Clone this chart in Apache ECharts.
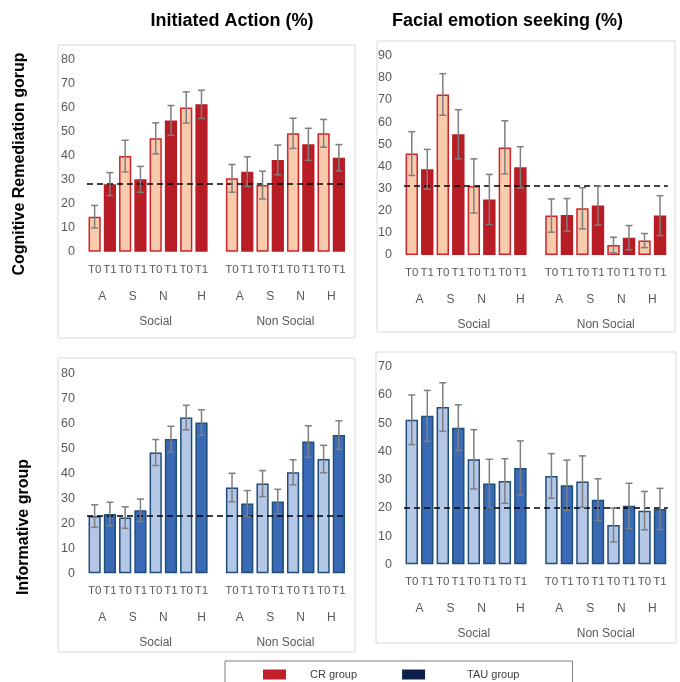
<!DOCTYPE html>
<html><head><meta charset="utf-8">
<script src="https://cdn.jsdelivr.net/npm/echarts@6/dist/echarts.min.js"></script>
<style>html,body{margin:0;padding:0;background:#fff}#c{width:680px;height:682px}</style>
</head><body><div id="c"></div>
<script>
// ---------- DATA ----------
const groups = ['Social', 'Non Social'];
const letters = ['A', 'S', 'N', 'H'];
const times = ['T0', 'T1'];
const panelTitles = ['Initiated Action (%)', 'Facial emotion seeking (%)'];
const rowTitles = ['Cognitive Remediation gorup', 'Informative group'];
const legendNames = ['CR group', 'TAU group'];
const yTicksMax = [80, 90, 80, 70];

// order of each array: Social A,S,N,H then Non Social A,S,N,H
const iaCR_T0 = [14.6, 39.9, 47.3, 60.2, 30.6, 27.8, 49.4, 49.4];
const iaCR_T1 = [28.2, 30.2, 54.8, 61.5, 33.4, 38.3, 44.8, 39.2];
const iaCR_T0err = [4.7, 6.6, 6.5, 6.5, 5.8, 5.8, 6.3, 5.8];
const iaCR_T1err = [4.8, 5.4, 6.2, 5.9, 6.2, 6.2, 6.7, 5.5];
const iaCR_ref = 28.2;

const fesCR_T0 = [45.8, 72.5, 31.2, 48.6, 17.8, 21.1, 4.5, 6.5];
const fesCR_T1 = [38.7, 54.5, 25.1, 39.6, 18.1, 22.3, 7.8, 17.8];
const fesCR_T0err = [9.9, 9.4, 12.2, 12.0, 7.5, 9.3, 3.5, 3.2];
const fesCR_T1err = [9.0, 11.1, 11.3, 9.3, 7.4, 8.8, 5.5, 9.0];
const fesCR_ref = 31.3;

const iaTAU_T0 = [22.9, 22.3, 48.3, 62.3, 34.3, 35.9, 40.4, 45.7];
const iaTAU_T1 = [23.7, 25.2, 53.7, 60.3, 27.9, 28.7, 52.7, 55.3];
const iaTAU_T0err = [4.5, 4.3, 5.2, 4.9, 5.7, 5.2, 5.0, 5.5];
const iaTAU_T1err = [4.7, 4.5, 5.1, 5.1, 5.2, 4.9, 6.3, 5.7];
const iaTAU_ref = 23.1;

const fesTAU_T0 = [51.2, 55.7, 37.2, 29.5, 31.3, 29.3, 13.9, 19.0];
const fesTAU_T1 = [52.6, 48.4, 28.6, 34.1, 28.0, 22.9, 20.7, 19.6];
const fesTAU_T0err = [8.8, 8.6, 10.5, 7.9, 7.9, 9.1, 6.0, 6.8];
const fesTAU_T1err = [9.0, 8.1, 8.6, 9.6, 8.9, 7.4, 8.0, 7.3];
const fesTAU_ref = 20.2;

// ---------- STYLE / LAYOUT ----------
const FONT = "'Liberation Sans', Arial, sans-serif";
const TXT = '#595959';
const palettes = {
  CR: { t0: '#f8cbad', t0b: '#d0232b', t1: '#b81c25', t1b: '#b81c25', legend: '#c0202a' },
  TAU: { t0: '#b4c7e7', t0b: '#1f4e79', t1: '#3a6ab5', t1b: '#1f4e79', legend: '#0c1f4a' }
};
const panels = [
  { T0: iaCR_T0, T1: iaCR_T1, e0: iaCR_T0err, e1: iaCR_T1err, ref: iaCR_ref, pal: 'CR', name: legendNames[0],
    grid: { left: 87, right: 333.5, top: 60, bottom: 430.3 }, box: [58, 45, 297, 293] },
  { T0: fesCR_T0, T1: fesCR_T1, e0: fesCR_T0err, e1: fesCR_T1err, ref: fesCR_ref, pal: 'CR', name: legendNames[0],
    grid: { left: 404, right: 12.2, top: 55.7, bottom: 427 }, box: [377, 41, 298, 291] },
  { T0: iaTAU_T0, T1: iaTAU_T1, e0: iaTAU_T0err, e1: iaTAU_T1err, ref: iaTAU_ref, pal: 'TAU', name: legendNames[1],
    grid: { left: 87, right: 333.5, top: 373.3, bottom: 108.7 }, box: [58, 358, 297, 294] },
  { T0: fesTAU_T0, T1: fesTAU_T1, e0: fesTAU_T0err, e1: fesTAU_T1err, ref: fesTAU_ref, pal: 'TAU', name: legendNames[1],
    grid: { left: 404, right: 12.2, top: 366.7, bottom: 117.7 }, box: [376, 352, 300, 291] }
];

// categories: T0,T1 per letter, empty slot between groups
const categories = [];
const slotIndex = []; // [g][letter][time] -> category index
groups.forEach((g, gi) => {
  slotIndex.push([]);
  letters.forEach((l, li) => {
    slotIndex[gi].push([]);
    times.forEach(t => { slotIndex[gi][li].push(categories.length); categories.push(t); });
  });
  if (gi < groups.length - 1) categories.push('');
});
const nCat = categories.length;

// label positions (in category units) for the letter and group rows
const letterLabels = {}, groupLabels = {};
groups.forEach((g, gi) => {
  letters.forEach((l, li) => {
    let pos = slotIndex[gi][li][0] + 1;
    if (gi === 0 && li === letters.length - 1) pos += 0.5; // Excel offset seen in original
    letterLabels[pos.toFixed(1)] = l;
  });
  const first = slotIndex[gi][0][0], last = slotIndex[gi][letters.length - 1][1] + 1;
  let c = (first + last) / 2 + (gi === 0 ? 0.5 : 0);
  groupLabels[c.toFixed(1)] = g;
});

const grids = [], xAxes = [], yAxes = [], series = [], graphics = [];
panels.forEach((p, k) => {
  grids.push(Object.assign({ containLabel: false }, p.grid));
  const pal = palettes[p.pal];
  xAxes.push({
    type: 'category', gridIndex: k, data: categories, position: 'bottom', offset: 0,
    axisLine: { show: false }, axisTick: { show: false },
    axisLabel: { interval: 0, margin: 12, color: TXT, fontSize: 11.5, fontFamily: FONT }
  });
  const lvl = (map, margin) => ({
    type: 'value', gridIndex: k, min: 0, max: nCat, interval: 0.5, position: 'bottom', offset: 0,
    axisLine: { show: false, onZero: false }, axisTick: { show: false }, splitLine: { show: false },
    axisLabel: { margin: margin, color: TXT, fontSize: 12, fontFamily: FONT,
      showMinLabel: true, showMaxLabel: true,
      formatter: v => map[Number(v).toFixed(1)] || '' }
  });
  xAxes.push(lvl(letterLabels, 38.5));
  xAxes.push(lvl(groupLabels, 63.5));
  yAxes.push({
    type: 'value', gridIndex: k, min: 0, max: yTicksMax[k], interval: 10, position: 'left',
    axisLine: { show: false }, axisTick: { show: false }, splitLine: { show: false },
    axisLabel: { margin: 12, color: TXT, fontSize: 12.5, fontFamily: FONT }
  });
  const barData = categories.map(() => null);
  const errData = [];
  groups.forEach((g, gi) => letters.forEach((l, li) => {
    const di = gi * letters.length + li;
    const i0 = slotIndex[gi][li][0], i1 = slotIndex[gi][li][1];
    barData[i0] = { value: p.T0[di], itemStyle: { color: pal.t0, borderColor: pal.t0b, borderWidth: 1.5 } };
    barData[i1] = { value: p.T1[di], itemStyle: { color: pal.t1, borderColor: pal.t1b, borderWidth: 1.5 } };
    errData.push([i0, p.T0[di] - p.e0[di], p.T0[di] + p.e0[di]]);
    errData.push([i1, p.T1[di] - p.e1[di], p.T1[di] + p.e1[di]]);
  }));
  series.push({
    type: 'bar', name: p.name, xAxisIndex: 3 * k, yAxisIndex: k, data: barData,
    barWidth: '80%', color: pal.legend, z: 2, silent: true
  });
  series.push({
    type: 'custom', xAxisIndex: 3 * k, yAxisIndex: k, data: errData, z: 5, silent: true,
    renderItem: (params, api) => {
      const x = api.value(0);
      const lo = api.coord([x, api.value(1)]);
      const hi = api.coord([x, api.value(2)]);
      const w = 3.5;
      const st = { stroke: '#7f7f7f', lineWidth: 1.5 };
      return { type: 'group', children: [
        { type: 'line', shape: { x1: lo[0], y1: lo[1], x2: hi[0], y2: hi[1] }, style: st },
        { type: 'line', shape: { x1: hi[0] - w, y1: hi[1], x2: hi[0] + w, y2: hi[1] }, style: st },
        { type: 'line', shape: { x1: lo[0] - w, y1: lo[1], x2: lo[0] + w, y2: lo[1] }, style: st }
      ] };
    },
    markLine: { silent: true, symbol: 'none', label: { show: false }, animation: false,
      lineStyle: { type: [6, 4], color: '#000', width: 1.5 }, data: [{ yAxis: p.ref }] }
  });
  graphics.push({ type: 'rect', shape: { x: p.box[0], y: p.box[1], width: p.box[2], height: p.box[3] },
    style: { fill: 'none', stroke: '#d9d9d9', lineWidth: 1 }, z: -1, silent: true });
});

graphics.push({ type: 'text', x: 232, y: 21, style: { text: panelTitles[0], font: "bold 18px " + FONT, fill: '#000', textAlign: 'center', textVerticalAlign: 'middle' } });
graphics.push({ type: 'text', x: 507.5, y: 21, style: { text: panelTitles[1], font: "bold 18px " + FONT, fill: '#000', textAlign: 'center', textVerticalAlign: 'middle' } });
graphics.push({ type: 'text', x: 20, y: 164, rotation: Math.PI / 2, style: { text: rowTitles[0], font: "bold 16px " + FONT, fill: '#000', textAlign: 'center', textVerticalAlign: 'middle' } });
graphics.push({ type: 'text', x: 24, y: 527, rotation: Math.PI / 2, style: { text: rowTitles[1], font: "bold 16px " + FONT, fill: '#000', textAlign: 'center', textVerticalAlign: 'middle' } });

const chart = echarts.init(document.getElementById('c'), null, { renderer: 'canvas' });
chart.setOption({
  animation: false,
  grid: grids, xAxis: xAxes, yAxis: yAxes, series: series, graphic: graphics,
  legend: {
    left: 225, top: 661, orient: 'horizontal', icon: 'rect', itemWidth: 23, itemHeight: 10, itemGap: 45,
    padding: [8, 53, 20, 38], borderColor: '#7f7f7f', borderWidth: 1, selectedMode: false,
    textStyle: { color: '#404040', fontSize: 11, fontFamily: FONT, padding: [0, 0, 0, 19] },
    data: [
      { name: legendNames[0], itemStyle: { color: palettes.CR.legend } },
      { name: legendNames[1], itemStyle: { color: palettes.TAU.legend },
        textStyle: { color: '#404040', fontSize: 11, fontFamily: FONT, padding: [0, 0, 0, 37] } }
    ]
  }
});
</script></body></html>
